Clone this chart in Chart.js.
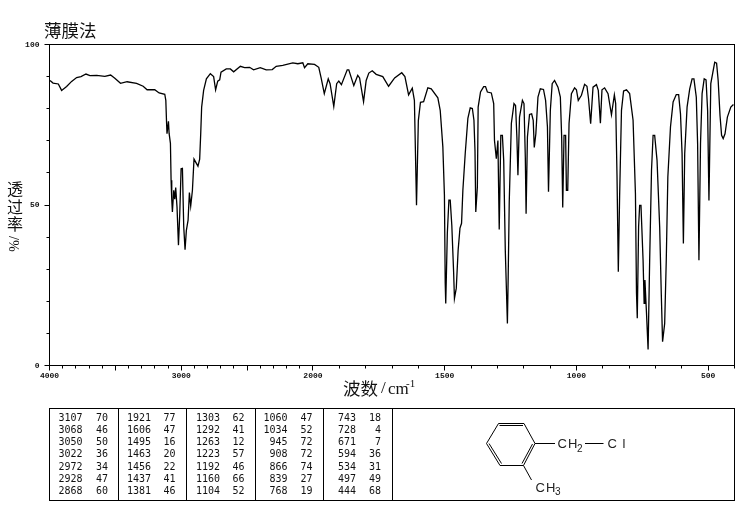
<!DOCTYPE html>
<html>
<head>
<meta charset="utf-8">
<title>IR spectrum</title>
<script src="https://cdn.jsdelivr.net/npm/chart.js@4"></script>
<style>
    html, body { margin: 0; padding: 0; background: #fff; }
    canvas { display: block; }
</style>
</head>
<body>
<canvas id="irChart" width="738" height="510"></canvas>
<script>
// spectrum
const wavenumbers = [3996, 3973, 3933, 3908, 3870, 3832, 3794, 3761, 3723, 3693, 3642, 3580, 3536, 3504, 3461, 3411, 3339, 3289, 3259, 3201, 3168, 3125, 3117, 3112, 3108, 3097, 3092, 3082, 3077, 3072, 3067, 3057, 3049, 3042, 3032, 3021, 3011, 3001, 2991, 2981, 2971, 2961, 2948, 2938, 2928, 2915, 2903, 2873, 2860, 2852, 2845, 2830, 2809, 2779, 2754, 2739, 2723, 2708, 2698, 2658, 2627, 2602, 2551, 2519, 2481, 2451, 2400, 2355, 2309, 2279, 2229, 2153, 2115, 2077, 2064, 2039,
    1994, 1978, 1969, 1957, 1942, 1935, 1921, 1910, 1902, 1892, 1870, 1864, 1845, 1830, 1823, 1808, 1798, 1788, 1775, 1760, 1735, 1713, 1690, 1663, 1651, 1637, 1623, 1615, 1607, 1600, 1592, 1580, 1564, 1551, 1526, 1517, 1507, 1501, 1498, 1496, 1490, 1484, 1479, 1473, 1466, 1463, 1456, 1449, 1442, 1436, 1431, 1422, 1412, 1403, 1395, 1389, 1385, 1382, 1376, 1373, 1364, 1352, 1345, 1338, 1323, 1314, 1311, 1304, 1298, 1293, 1287, 1281, 1276, 1270, 1262, 1259, 1255, 1247, 1237, 1231, 1226, 1222, 1216, 1205, 1199, 1194, 1191, 1186, 1178, 1170, 1164, 1160, 1154, 1146, 1137, 1125, 1117, 1110, 1106, 1099, 1092, 1083, 1070, 1061, 1056, 1052, 1047, 1041, 1038, 1033, 1028, 1019, 1007, 1000, 993, 981, 969, 960, 954, 946, 937, 924, 917, 909, 903, 893, 880, 867, 856, 851, 846, 841, 836, 829, 821, 810, 798, 785, 776, 772, 769, 764, 760, 755, 747, 743, 740, 734, 728, 722, 715, 709, 703, 694, 684, 678, 673, 665, 659, 653, 643, 633, 621, 612, 605, 599, 594, 589, 580, 570, 561, 554, 545, 540, 535, 529, 523, 515, 508, 502, 497, 490, 482, 475, 468, 462, 455, 449, 443, 436, 427, 414, 404];
const transmittance = [88.8, 88.0, 87.7, 85.7, 86.9, 88.5, 89.7, 90.0, 90.8, 90.3, 90.4, 90.1, 90.5, 89.5, 87.9, 88.4, 87.9, 87.0, 85.9, 85.9, 84.9, 84.5, 82.6, 76.4, 72.2, 76.1, 72.3, 69.2, 57.7, 51.8, 47.8, 54.6, 51.8, 55.4, 49.4, 37.5, 47.4, 61.3, 61.4, 43.2, 36.1, 42.1, 45.3, 53.9, 49.7, 54.6, 64.3, 62.1, 64.3, 72.3, 80.5, 85.7, 89.3, 90.9, 90.0, 85.9, 88.6, 89.0, 91.4, 92.4, 92.4, 91.5, 93.2, 92.8, 92.9, 92.1, 92.8, 92.1, 92.2, 93.2, 93.5, 94.3, 94.0, 94.3, 92.8, 94.0,
    93.8, 92.9, 89.6, 84.7, 89.3, 87.8, 80.7, 87.8, 88.6, 87.5, 92.1, 92.1, 87.2, 90.4, 89.6, 82.2, 88.8, 91.1, 91.8, 90.7, 90.0, 87.0, 89.6, 91.2, 90.0, 84.3, 86.4, 82.6, 49.9, 76.3, 82.0, 82.2, 86.5, 86.2, 83.4, 79.5, 68.1, 53, 25.7, 19.3, 41.2, 51.5, 51.5, 43.7, 28.8, 20.9, 24.1, 35.9, 42.8, 44.3, 54.6, 66.1, 77, 80.3, 80.1, 76.4, 67, 47.8, 55.6, 80.5, 85.2, 86.9, 86.9, 85.2, 84.9, 81.6, 70.1, 64.4, 70.1, 42.4, 71.7, 71.7, 63.9, 35.9, 13.1, 27.6, 50.9, 75.4, 81.6, 81, 71.2, 59.3, 77.4, 82.6, 81.6, 64.9, 47.3, 71.2, 78.2, 78.4, 76.4, 67.9, 72.2, 83.6, 86.2, 86, 82.6, 74.3, 54.1, 79.5, 87.8, 88.8, 86.7, 83.6, 71.2, 49.2, 71.7, 71.7, 54.6, 54.6, 75.4, 84.7, 86.5, 85.9, 82.6, 84.2, 87.6, 87, 83.1, 75.3, 86.7, 87.5, 85.7, 75.5, 85.9, 86.5, 84.7, 78.1, 84.3, 81.6, 59.3, 29.2, 53, 79.5, 85.5, 85.9, 84.7, 76.4, 53.6, 22.6, 14.7, 43.2, 49.9, 49.9, 32.8, 19.4, 26.6, 16.3, 5, 32.8, 60.8, 71.7, 71.7, 63.9, 43.2, 22.6, 7.4, 13.1, 32.8, 58.7, 74.3, 82.1, 84.4, 84.4, 78.4, 66, 38, 66, 80.5, 86.2, 89.3, 89.3, 83.6, 69.1, 32.8, 69.1, 84.7, 89.3, 89, 79.4, 51.4, 87.8, 91.4, 94.5, 94.2, 88.8, 77.9, 71.7, 70.7, 72.2, 77.4, 80.5, 81.3];

// peak table, seven rows in each column
const peakWavenumbers = [3107, 3068, 3050, 3022, 2972, 2928, 2868,
    1921, 1606, 1495, 1463, 1456, 1437, 1381,
    1303, 1292, 1263, 1223, 1192, 1160, 1104,
    1060, 1034, 945, 908, 866, 839, 768,
    743, 728, 671, 594, 534, 497, 444];
const peakTransmittance = [70, 46, 50, 36, 34, 47, 60,
    77, 47, 16, 20, 22, 41, 46,
    62, 41, 12, 57, 46, 66, 52,
    47, 52, 72, 72, 74, 27, 19,
    18, 4, 7, 36, 31, 49, 68];

const xLabels = [4000, 3000, 2000, 1500, 1000, 500];
const yLabels = [0, 50, 100];

const AXIS_BEND = 2000;  // the x axis doubles its scale below this wavenumber

// wavenumber axis with the usual IR change of scale at 2000
class IrAxis extends Chart.LinearScale {
    units(v) {
        return v >= AXIS_BEND ? 4000 - v : 2000 + (AXIS_BEND - v) * 2;
    }
    getPixelForValue(v) {
        return this.left + this.width * this.units(v) / 5200;
    }
    getValueForPixel(px) {
        const u = (px - this.left) / this.width * 5200;
        return u <= 2000 ? 4000 - u : AXIS_BEND - (u - 2000) / 2;
    }
    buildTicks() {
        const ticks = [];
        for (let v = 4000; v >= 400; v -= 100) {
            ticks.push({ value: v, major: v % 500 === 0 });
        }
        return ticks;
    }
}
IrAxis.id = 'irAxis';
IrAxis.defaults = {};
Chart.register(IrAxis);

const MONO = '"Liberation Mono", monospace';
const CJK = '"Noto Sans CJK SC", sans-serif';

function drawTicks(ctx, chart) {
    const xs = chart.scales.x, ys = chart.scales.y;
    ctx.beginPath();
    xs.ticks.forEach(t => {
        const px = Math.round(xs.getPixelForValue(t.value) - 0.5) + 0.5;
        ctx.moveTo(px, ys.bottom);
        ctx.lineTo(px, ys.bottom + (t.value % 500 === 0 ? 5 : 3));
    });
    ys.ticks.forEach(t => {
        const py = Math.round(ys.getPixelForValue(t.value) - 0.5) + 0.5;
        ctx.moveTo(xs.left, py);
        ctx.lineTo(xs.left - (t.value % 50 === 0 ? 5 : 3), py);
    });
    ctx.stroke();
}

function drawTitles(ctx) {
    ctx.textBaseline = 'middle';
    ctx.textAlign = 'left';
    ctx.fillStyle = '#111';
    ctx.font = '17.5px ' + CJK;
    ctx.fillText('薄膜法', 44, 30);

    ctx.font = '16px ' + CJK;
    ctx.textAlign = 'center';
    ctx.fillText('透', 15, 189);
    ctx.fillText('过', 15, 207);
    ctx.fillText('率', 15, 224);
    ctx.save();
    ctx.translate(15, 244);
    ctx.rotate(-Math.PI / 2);
    ctx.font = '14px "Liberation Serif", serif';
    ctx.fillText('%/', 0, 0);
    ctx.restore();

    ctx.textAlign = 'left';
    ctx.font = '17.5px ' + CJK;
    ctx.fillText('波数', 343, 388);
    ctx.font = '17px "Liberation Serif", serif';
    ctx.fillText('/', 381, 389);
    ctx.fillText('cm', 388, 390);
    ctx.font = '11px "Liberation Serif", serif';
    ctx.fillText('-1', 406, 384);
}

function drawPeakTable(ctx) {
    const dividers = [49.5, 118.5, 186.5, 255.5, 323.5, 392.5, 734.5];
    const waveRight = [82.5, 151, 220, 287.5, 356];
    const valueRight = [108, 175.5, 244.5, 312.5, 381];
    ctx.beginPath();
    dividers.forEach(x => { ctx.moveTo(x, 408.5); ctx.lineTo(x, 500.5); });
    ctx.moveTo(49, 408.5); ctx.lineTo(735, 408.5);
    ctx.moveTo(49, 500.5); ctx.lineTo(735, 500.5);
    ctx.stroke();

    ctx.fillStyle = '#111';
    ctx.font = '10px "DejaVu Sans Mono", monospace';
    ctx.textBaseline = 'middle';
    ctx.textAlign = 'right';
    peakWavenumbers.forEach((w, i) => {
        const col = Math.floor(i / 7), row = i % 7;
        const y = 418 + row * 12.3;
        ctx.fillText(String(w), waveRight[col], y);
        ctx.fillText(String(peakTransmittance[i]), valueRight[col], y);
    });
}

function drawStructure(ctx) {
    const ring = [[498.5, 423.5], [524, 423.5], [535, 443.5], [523.5, 465.5], [500, 465.5], [486.5, 443.5]];
    ctx.beginPath();
    ring.forEach((p, i) => { if (i === 0) ctx.moveTo(p[0], p[1]); else ctx.lineTo(p[0], p[1]); });
    ctx.closePath();
    // inner lines of the double bonds
    ctx.moveTo(499.5, 425.5); ctx.lineTo(523, 425.5);
    ctx.moveTo(532.5, 444); ctx.lineTo(522, 463.5);
    ctx.moveTo(501.5, 463.5); ctx.lineTo(489, 443.5);
    // side chains
    ctx.moveTo(535, 443.5); ctx.lineTo(555, 443.5);
    ctx.moveTo(585, 443.5); ctx.lineTo(603.5, 443.5);
    ctx.moveTo(523.5, 465.5); ctx.lineTo(531.5, 480);
    ctx.stroke();

    ctx.fillStyle = '#222';
    ctx.textAlign = 'left';
    ctx.textBaseline = 'middle';
    ctx.font = '13px "Liberation Sans", sans-serif';
    ctx.letterSpacing = '1px';
    ctx.fillText('CH', 557.5, 444);
    ctx.fillText('C l', 607.5, 444);
    ctx.fillText('CH', 535.5, 488.5);
    ctx.letterSpacing = '0px';
    ctx.font = '10px "Liberation Sans", sans-serif';
    ctx.fillText('2', 577, 449);
    ctx.fillText('3', 555, 492);
}

const sheetPlugin = {
    id: 'sheet',
    afterDraw(chart) {
        const ctx = chart.ctx;
        ctx.save();
        ctx.strokeStyle = '#000';
        ctx.lineWidth = 1;
        ctx.strokeRect(49.5, 44.5, 685, 321);
        drawTicks(ctx, chart);
        drawTitles(ctx);
        drawPeakTable(ctx);
        drawStructure(ctx);
        ctx.restore();
    }
};

const irChart = new Chart(document.getElementById('irChart'), {
    type: 'line',
    data: {
        datasets: [{
            label: '透过率',
            data: wavenumbers.map((w, i) => ({ x: w, y: transmittance[i] })),
            borderColor: '#000',
            borderWidth: 1.3,
            pointRadius: 0,
            tension: 0,
            fill: false
        }]
    },
    options: {
        responsive: false,
        animation: false,
        devicePixelRatio: 1,
        layout: { padding: { top: 44.5, right: 3.5, left: 0, bottom: 0 } },
        plugins: { legend: { display: false }, tooltip: { enabled: false } },
        scales: {
            x: {
                type: 'irAxis',
                min: 400,
                max: 4000,
                afterFit(s) { s.height = 144.5; s.paddingLeft = 0; s.paddingRight = 0; },
                grid: { display: false, drawTicks: false },
                border: { display: false },
                ticks: {
                    autoSkip: false,
                    maxRotation: 0,
                    padding: 6,
                    color: '#111',
                    font: { family: 'Liberation Mono', size: 8, weight: 'bold' },
                    callback: v => xLabels.includes(v) ? String(v) : ''
                }
            },
            y: {
                min: 0,
                max: 100,
                afterFit(s) { s.width = 49.5; },
                grid: { display: false, drawTicks: false },
                border: { display: false },
                ticks: {
                    stepSize: 10,
                    autoSkip: false,
                    padding: 10,
                    color: '#111',
                    font: { family: 'Liberation Mono', size: 8, weight: 'bold' },
                    callback: v => yLabels.includes(v) ? String(v) : ''
                }
            }
        }
    },
    plugins: [sheetPlugin]
});
</script>
</body>
</html>
